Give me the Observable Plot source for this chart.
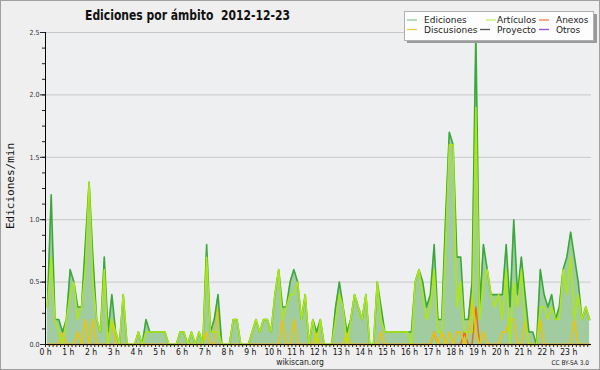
<!DOCTYPE html>
<html><head><meta charset="utf-8">
<script src="https://cdn.jsdelivr.net/npm/d3@7"></script>
<script src="https://cdn.jsdelivr.net/npm/@observablehq/plot@0.6"></script>
<style>
html,body{margin:0;padding:0;background:#efefef;}
#chart svg{display:block;}
</style></head><body><div id="chart"></div>
<script>
const title = "Ediciones por ámbito  2012-12-23";
const yLabel = "Ediciones/min";
const footer = "wikiscan.org";
const license = "CC BY-SA 3.0";
const hourLabels = ["0 h","1 h","2 h","3 h","4 h","5 h","6 h","7 h","8 h","9 h","10 h","11 h","12 h","13 h","14 h","15 h","16 h","17 h","18 h","19 h","20 h","21 h","22 h","23 h"];
const yTickValues = [0, 0.5, 1.0, 1.5, 2.0, 2.5];
const legendLabels = ["Ediciones","Artículos","Anexos","Discusiones","Proyecto","Otros"];

// Ediciones por minuto, en tramos de 10 minutos (144 tramos)
const ediciones = [
0.3,1.2,0.2,0.2,0.1,0.2,0.6,0.5,0.3,0.3,
0.8,1.3,0.7,0.2,0.1,0.7,0.1,0.4,0.1,0,
0.4,0,0,0,0.1,0,0.2,0.1,0.1,0.1,
0.1,0.1,0,0,0,0.1,0.1,0,0.1,0,
0.1,0,0.8,0.1,0.2,0.4,0,0,0,0.2,
0.2,0,0,0,0.1,0.2,0.1,0.2,0.2,0.1,
0.4,0.6,0.3,0.3,0.5,0.6,0.5,0.2,0.4,0,
0.2,0.1,0.2,0,0,0,0.3,0.5,0.3,0.1,
0.2,0.4,0.3,0.2,0.4,0,0,0.5,0.3,0.1,
0.1,0.1,0.1,0.1,0.1,0.1,0.1,0.5,0.6,0.5,
0.3,0.4,0.8,0.2,0.2,1.0,1.7,1.6,0.7,0.7,
0.2,0.2,0.5,2.5,0.3,0.8,0.6,0.4,0.4,0.4,
0.4,0.8,0.3,1.0,0.4,0.7,0.4,0.1,0.1,0,
0.6,0.4,0.3,0.4,0.2,0.3,0.6,0.7,0.9,0.7,
0.5,0.2,0.3,0.2];
const articulos = [
0.3,0.7,0.2,0.1,0,0.2,0.4,0.5,0.2,0.3,
0.6,1.3,0.5,0.2,0.1,0.6,0,0.2,0.1,0,
0.4,0,0,0,0.1,0,0.1,0.1,0.1,0.1,
0.1,0.1,0,0,0,0.1,0.1,0,0.1,0,
0.1,0,0.7,0.1,0.1,0.1,0,0,0,0.2,
0.2,0,0,0,0.1,0.2,0.1,0.2,0.2,0.1,
0.4,0.6,0.2,0.3,0.4,0.4,0.5,0.2,0.4,0,
0.2,0,0.2,0,0,0,0.2,0.4,0.3,0,
0.2,0.4,0.3,0.2,0.4,0,0,0.5,0.2,0.1,
0.1,0.1,0.1,0.1,0.1,0.1,0,0.5,0.6,0.4,
0.2,0.3,0.6,0.1,0.1,0.8,1.6,1.6,0.3,0.5,
0.1,0.1,0.1,1.9,0.2,0.5,0.6,0.4,0.3,0.4,
0.2,0.6,0,0.5,0.3,0.6,0.2,0,0,0,
0.3,0.3,0.2,0.3,0.2,0.2,0.6,0.4,0.7,0.2,
0.4,0.2,0.3,0.2];
const discusiones = [
0,0,0,0,0.1,0,0,0,0.1,0,
0.2,0,0.2,0,0,0,0,0.2,0,0,
0,0,0,0,0,0,0,0,0,0,
0,0,0,0,0,0,0,0,0,0,
0,0,0.1,0,0,0.3,0,0,0,0,
0,0,0,0,0,0,0,0,0,0,
0,0,0.2,0,0,0.2,0,0,0,0,
0,0.1,0,0,0,0,0,0,0,0.1,
0,0,0,0,0,0,0,0,0.1,0,
0,0,0,0,0,0,0,0,0,0,
0,0,0.1,0,0.1,0,0.1,0,0.1,0.1,
0,0.1,0.4,0.1,0,0.1,0,0,0,0,
0.1,0.1,0.2,0.2,0,0,0.2,0,0,0,
0.2,0,0,0,0,0,0,0,0,0.2,
0,0,0,0];
const anexos = [
0,0,0,0,0,0,0,0,0,0,
0,0,0,0,0,0,0,0,0,0,
0,0,0,0,0,0,0,0,0,0,
0,0,0,0,0,0,0,0,0,0,
0,0,0,0,0,0,0,0,0,0,
0,0,0,0,0,0,0,0,0,0,
0,0,0,0,0,0,0,0,0,0,
0,0,0,0,0,0,0,0,0,0,
0,0,0,0,0,0,0,0,0,0,
0,0,0,0,0,0,0,0,0,0,
0,0,0.1,0,0,0,0,0,0,0,
0.1,0,0,0.3,0,0,0,0,0,0,
0,0,0,0,0,0,0,0,0,0,
0,0,0,0,0,0,0,0,0,0,
0,0,0,0];

const slotMinutes = ediciones.map((_, i) => i * 10 + 5);
const tickMinutes = d3.range(0, 1440, 10);
const yMinor = d3.range(0, 2.5001, 0.125);

const colE = "#3aa83a", colEfill = "#a0cc9f", colA = "#aee80f", colD = "#efc400", colX = "#ee6a1a";
const legendColors = ["#8ccc8c","#c8ec60","#ee7a44","#eecc44","#555555","#9a4ee8"];

const svg = Plot.plot({
  width: 600, height: 370,
  marginTop: 32, marginBottom: 26, marginLeft: 45, marginRight: 9,
  style: {background: "#efefef", fontFamily: "DejaVu Sans", fontSize: "9px", color: "#222"},
  x: {domain: [0, 1440]},
  y: {domain: [0, 2.5]},
  marks: [
    Plot.frame({fill: "#eeeff1", stroke: null}),
    Plot.gridY({ticks: [0.5, 1, 1.5, 2, 2.5], stroke: "#c8c8c8", strokeOpacity: 1}),
    Plot.areaY(ediciones, {x: slotMinutes, y: ediciones, fill: colEfill}),
    Plot.lineY(anexos, {x: slotMinutes, y: anexos, stroke: colX, strokeWidth: 1.5}),
    Plot.lineY(discusiones, {x: slotMinutes, y: discusiones, stroke: colD, strokeWidth: 1.5}),
    Plot.lineY(ediciones, {x: slotMinutes, y: ediciones, stroke: colE, strokeWidth: 1.6}),
    Plot.lineY(articulos, {x: slotMinutes, y: articulos, stroke: colA, strokeWidth: 1.5}),
    Plot.ruleY([0], {stroke: "#000"}),
    Plot.ruleX([0], {stroke: "#000"}),
    Plot.axisY({ticks: yTickValues, tickSize: 5, tickPadding: 1, tickFormat: d3.format(".1f"), label: null,
      fontSize: 7, fill: "#333"}),
    Plot.axisY({ticks: yMinor, tickSize: 3, tickFormat: () => "", label: null}),
    Plot.axisX({ticks: tickMinutes, tickSize: 3, tickPadding: 1, label: null, fontSize: 8.5, fill: "#111",
      tickFormat: d => d % 60 === 0 ? hourLabels[d / 60] : ""})
  ]
});

const s = d3.select(svg);
s.selectAll("g[aria-label='y-axis tick label'] text, g[aria-label='x-axis tick label'] text")
  .attr("font-stretch", "condensed");
s.selectAll("g[aria-label='x-axis tick label'], g[aria-label='y-axis tick label']")
  .attr("font-family", "'DejaVu Sans Condensed', 'DejaVu Sans'");

s.append("rect").attr("x", 0.5).attr("y", 0.5).attr("width", 599).attr("height", 369)
  .attr("fill", "none").attr("stroke", "#a0a0a0");

s.append("text").attr("x", 85).attr("y", 19.5).attr("text-anchor", "start")
  .attr("font-family", "'DejaVu Sans Condensed', 'DejaVu Sans'").attr("font-stretch", "condensed")
  .attr("font-weight", "bold").attr("font-size", 14).attr("fill", "#111")
  .attr("textLength", 205).attr("lengthAdjust", "spacingAndGlyphs")
  .style("white-space", "pre").text(title);

s.append("text").attr("transform", "translate(14,186) rotate(-90)").attr("text-anchor", "middle")
  .attr("font-family", "'DejaVu Sans Mono'").attr("font-size", 11).attr("fill", "#111").text(yLabel);

s.append("text").attr("x", 300).attr("y", 364.5).attr("text-anchor", "middle")
  .attr("font-family", "'DejaVu Sans Condensed', 'DejaVu Sans'").attr("font-stretch", "condensed")
  .attr("font-size", 8.5).attr("fill", "#222").text(footer);

s.append("text").attr("x", 589).attr("y", 365).attr("text-anchor", "end")
  .attr("font-family", "'DejaVu Sans Condensed', 'DejaVu Sans'").attr("font-stretch", "condensed")
  .attr("font-size", 6.5).attr("fill", "#222").text(license);

// legend
const lg = s.append("g");
lg.append("rect").attr("x", 407).attr("y", 14).attr("width", 190).attr("height", 29).attr("fill", "#9a9a9a");
lg.append("rect").attr("x", 404.5).attr("y", 11.5).attr("width", 189).attr("height", 29)
  .attr("fill", "#fdfdfd").attr("stroke", "#b0b0b0");
const legendPos = [
  {lx: 407, tx: 424, y: 20},
  {lx: 486, tx: 497, y: 20},
  {lx: 539, tx: 556, y: 20},
  {lx: 407, tx: 424, y: 29.5},
  {lx: 480, tx: 497, y: 29.5},
  {lx: 539, tx: 556, y: 29.5}
];
legendLabels.forEach((lab, i) => {
  const p = legendPos[i];
  lg.append("line").attr("x1", p.lx).attr("x2", p.lx + 10).attr("y1", p.y).attr("y2", p.y)
    .attr("stroke", legendColors[i]).attr("stroke-width", 1.3);
  lg.append("text").attr("x", p.tx).attr("y", p.y + 3.3).attr("text-anchor", "start")
    .attr("font-family", "'DejaVu Sans'").attr("font-size", 9).attr("fill", "#222").text(lab);
});

document.getElementById("chart").appendChild(svg);
</script>
</body></html>
